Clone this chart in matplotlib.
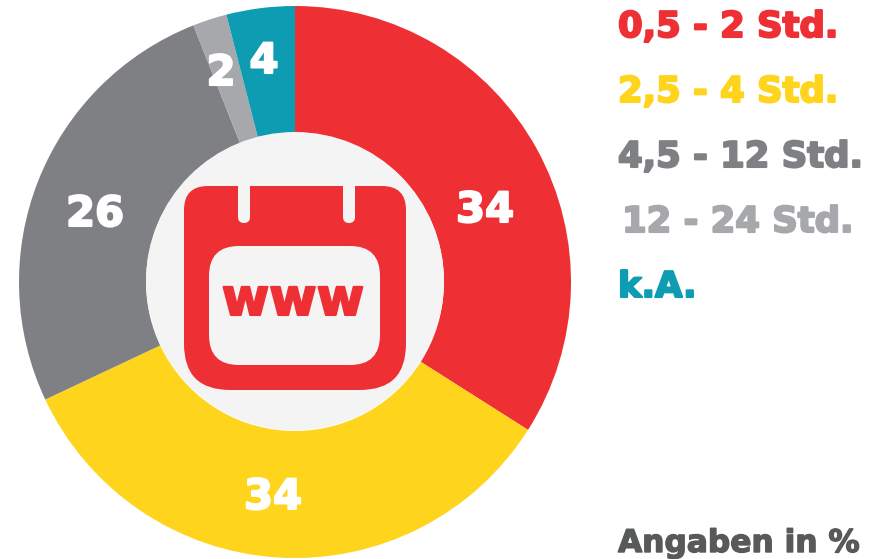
import matplotlib
matplotlib.use("Agg")
import matplotlib.pyplot as plt
import matplotlib.patheffects as pe
from matplotlib.patches import FancyBboxPatch, Circle

labels = ["0,5 - 2 Std.", "2,5 - 4 Std.", "4,5 - 12 Std.", "12 - 24 Std.", "k.A."]
values = [34, 34, 26, 2, 4]
colors = ["#ee3035", "#fed41d", "#7f8083", "#a6a8ab", "#0e9cb2"]
value_pos = [(485, 222), (273, 509), (95, 226), (221, 85), (264, 73)]
legend_x = [618, 618, 618, 622, 618]
legend_y = [37, 102, 167, 232, 297]
paper = "#f4f4f5"


def heavy(w, c):
    # the font is not as fat as the original, so thicken the outline
    return [pe.withStroke(linewidth=w, foreground=c)]


plt.rcParams['font.family'] = ['DejaVu Sans']
fig = plt.figure(figsize=(8.82, 5.59), dpi=100)
ax = fig.add_axes([0, 0, 1, 1])

# y axis runs downward, so the angles go clockwise on screen
ax.pie(values, colors=colors, startangle=-90, counterclock=True, center=(295, 282),
       radius=276, wedgeprops=dict(width=127, linewidth=0), frame=True)
ax.set_xlim(0, 882)
ax.set_ylim(559, 0)
ax.set_aspect('auto')
ax.axis('off')

ax.add_patch(Circle((295, 281), 149, fc=paper, ec="none", zorder=3))

# calendar icon: top corners tighter than the bottom ones
ax.add_patch(FancyBboxPatch((184, 186), 222, 120, boxstyle="round,pad=0,rounding_size=24",
                            fc="#ee3035", ec="none", zorder=4))
ax.add_patch(FancyBboxPatch((184, 230), 222, 160, boxstyle="round,pad=0,rounding_size=46",
                            fc="#ee3035", ec="none", zorder=4))
ax.add_patch(FancyBboxPatch((209, 246), 171, 119, boxstyle="round,pad=0,rounding_size=30",
                            fc=paper, ec="none", zorder=5))
for x in [238, 343]:
    ax.add_patch(FancyBboxPatch((x, 170), 12, 53, boxstyle="round,pad=0,rounding_size=6",
                                fc=paper, ec="none", zorder=5))
ax.text(293, 315, "www", color="#ee3035", fontsize=37, fontweight='bold', ha='center', va='baseline',
        zorder=6, path_effects=heavy(1.5, "#ee3035"))

for v, pos in zip(values, value_pos):
    ax.text(pos[0], pos[1], str(v), color="white", fontsize=30, fontweight='bold',
            ha='center', va='baseline', zorder=6, path_effects=heavy(1.5, "white"))
for lab, c, x, y in zip(labels, colors, legend_x, legend_y):
    ax.text(x, y, lab, color=c, fontsize=25.5, fontweight='bold', ha='left', va='baseline',
            path_effects=heavy(1.5, c))
ax.text(618, 552, "Angaben in %", color="#58595b", fontsize=22.5, fontweight='bold', ha='left', va='baseline',
        path_effects=heavy(1.0, "#58595b"))

fig.savefig("out.png", dpi=100)
